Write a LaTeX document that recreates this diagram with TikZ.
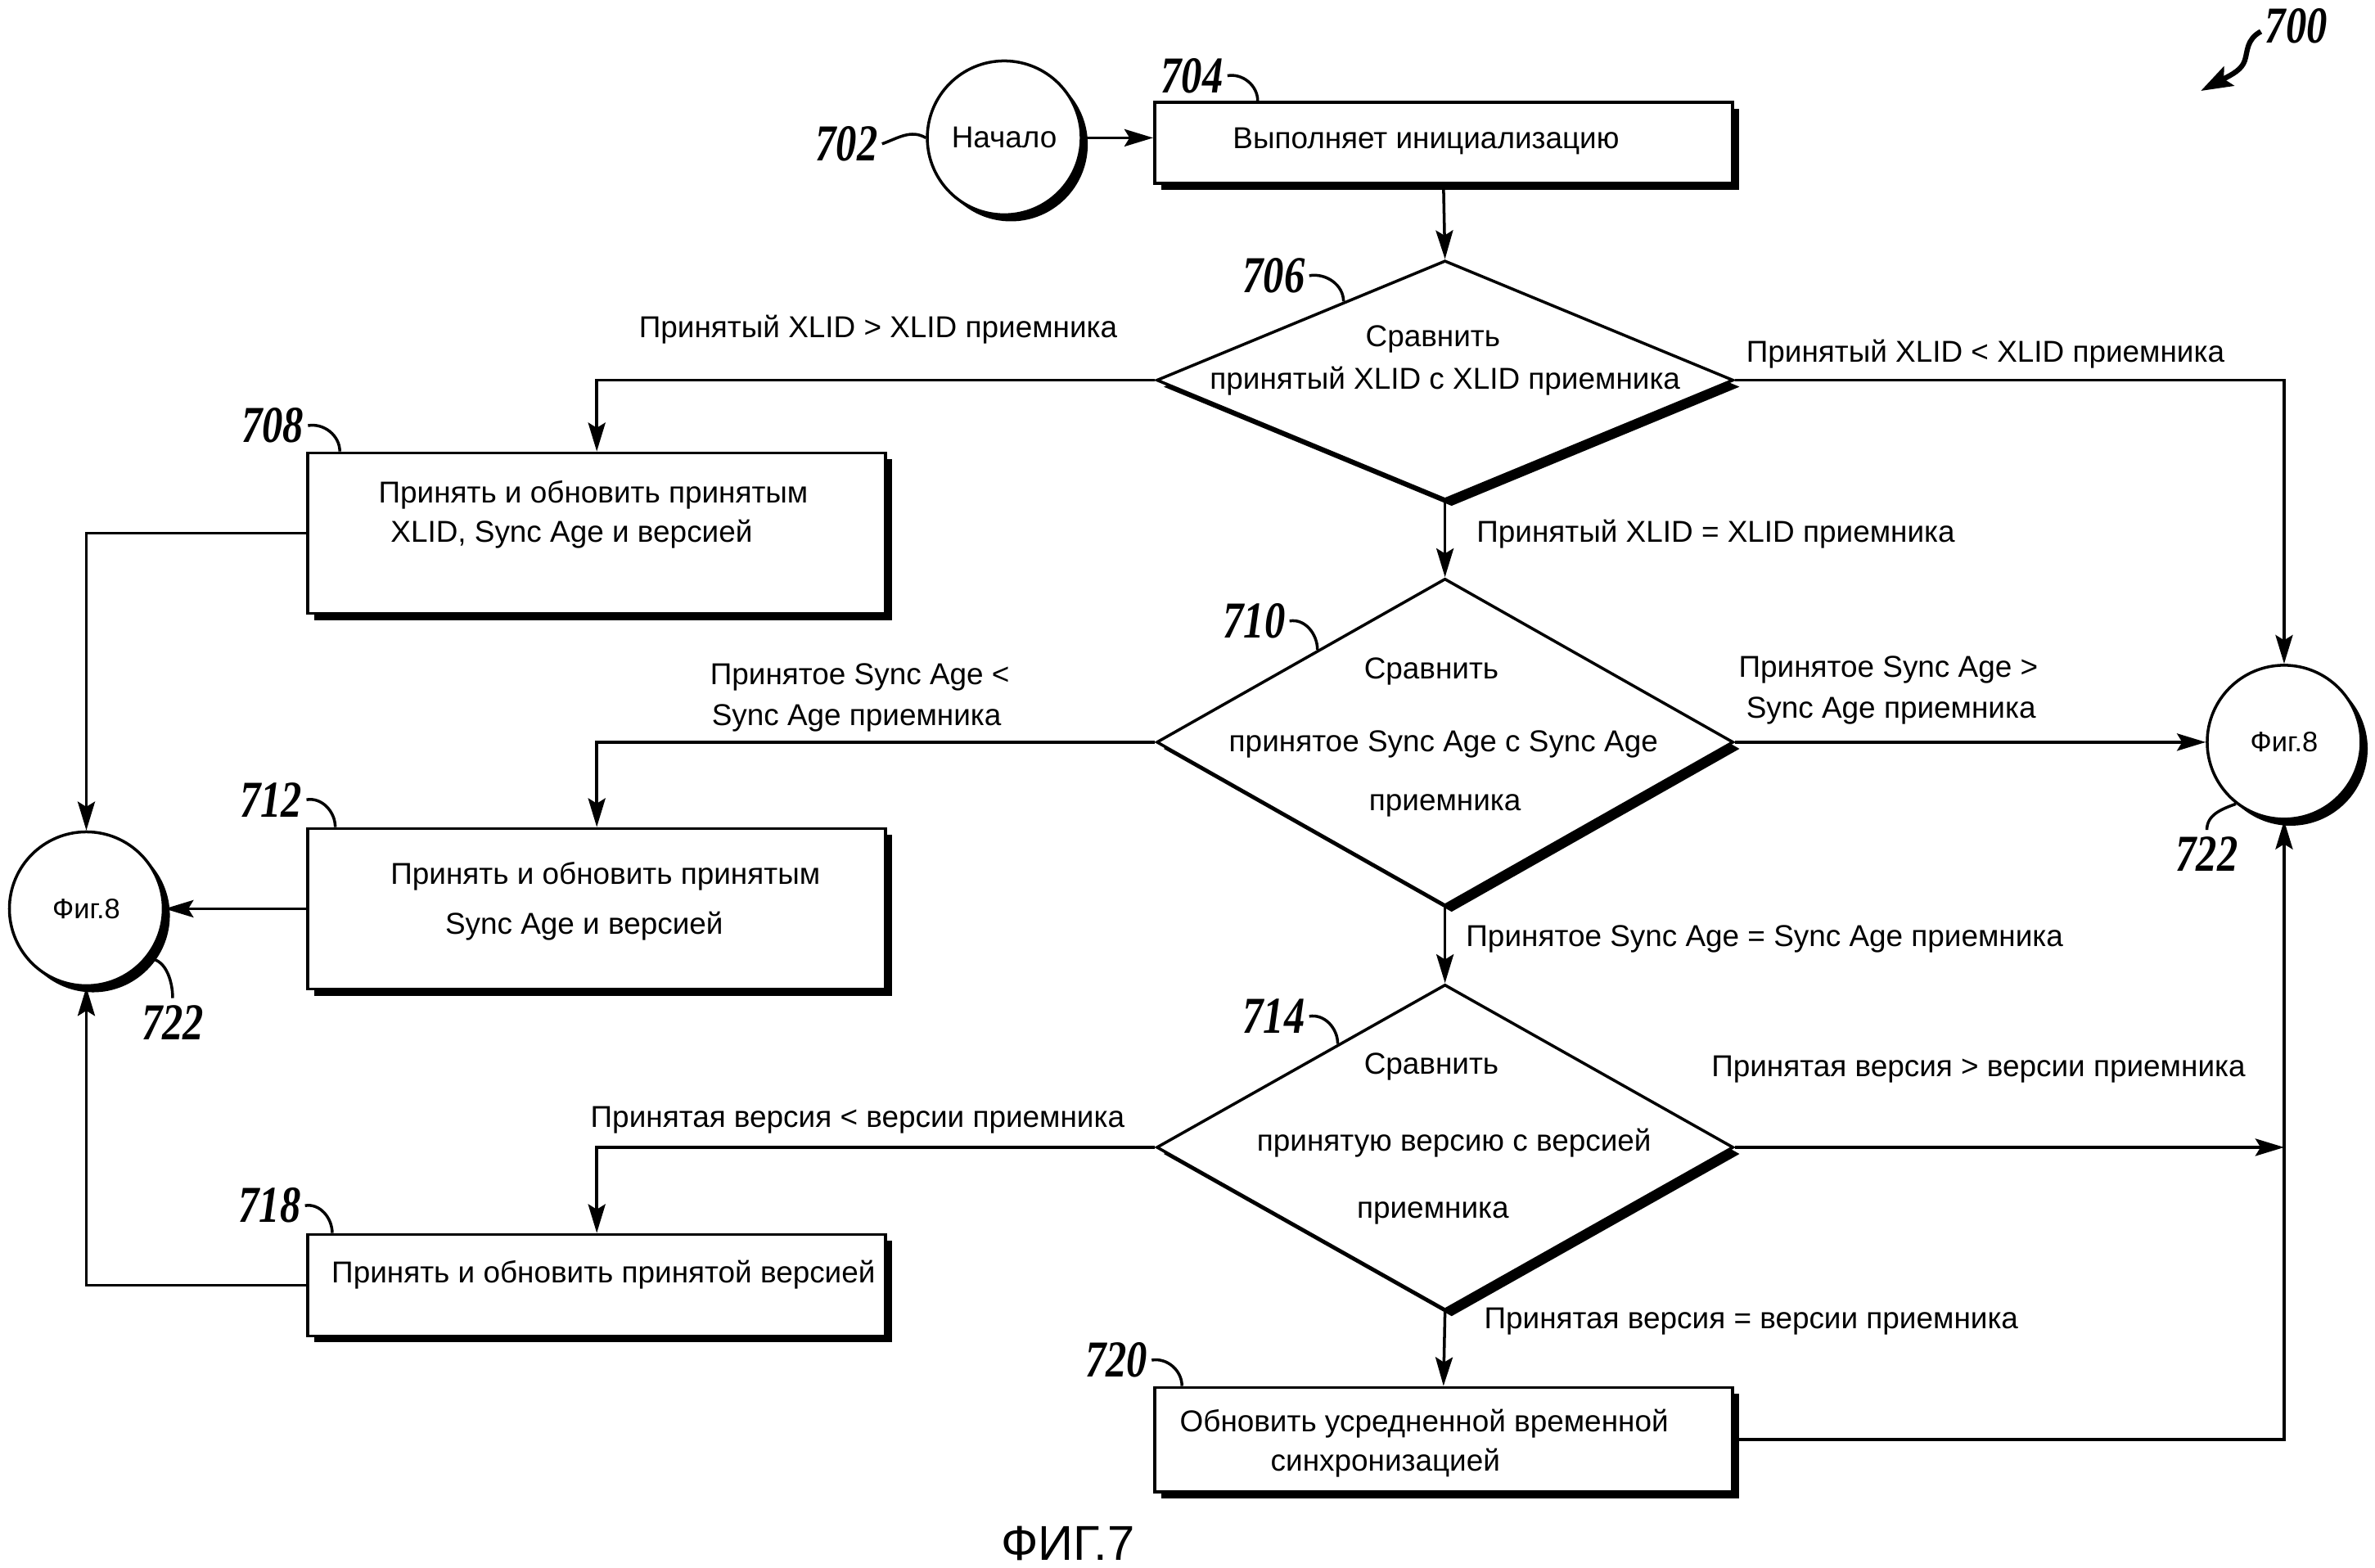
\documentclass[tikz,border=0pt]{standalone}
\usepackage{fontspec}
\setmainfont{Liberation Sans}
\newfontfamily\numfont{Liberation Serif}[FakeStretch=0.8]
\usetikzlibrary{shapes.geometric,shadows,arrows.meta,calc}
\begin{document}
\begin{tikzpicture}[x=0.018508cm,y=-0.018508cm,line width=1pt,
  shad/.style={drop shadow={shadow xshift=2.3pt,shadow yshift=-2.3pt,fill=black,opacity=1}},
  box/.style={draw,fill=white,shad,rectangle,inner sep=0pt,minimum width=7.06cm},
  dia/.style={draw,fill=white,shad,diamond,inner sep=0pt,minimum width=7.05cm},
  circ/.style={draw,fill=white,shad,circle,inner sep=0pt,minimum size=1.88cm,font=\fontsize{9.8}{11}\selectfont},
  txt/.style={font=\fontsize{10.5}{13}\selectfont,inner sep=0pt,text height=7.6pt,text depth=0.2pt},
  num/.style={font=\numfont\bfseries\itshape\fontsize{18}{18}\selectfont,inner sep=0pt},
  arr/.style={-{Stealth[length=10pt,width=6pt,inset=1.8pt]}},
  lead/.style={line width=1pt}]
\fill[white] (0,0) rectangle (1568,1035);
\useasboundingbox (0,0) rectangle (1568,1035);

% shapes
\node[circ,font=\fontsize{10.5}{13}\selectfont] (start) at (663,91) {Начало};
\node[box,minimum height=0.99cm] (b704) at (953,94.3) {};
\node[dia,minimum height=2.924cm] (d706) at (954,251) {};
\node[box,minimum height=1.962cm] (b708) at (394,352) {};
\node[dia,minimum height=3.998cm] (d710) at (954,490) {};
\node[box,minimum height=1.962cm] (b712) at (394,600) {};
\node[dia,minimum height=3.979cm] (d714) at (954,757.5) {};
\node[box,minimum height=1.24cm] (b718) at (394,848.5) {};
\node[box,minimum height=1.277cm] (b720) at (953,950.5) {};
\node[circ] (fr) at (1508,490) {Фиг.8};
\node[circ] (fl) at (57,600) {Фиг.8};

% texts inside shapes
\node[txt,anchor=west] at (813,91) {Выполняет инициализацию};
\node[txt] at (946,222) {Сравнить};
\node[txt] at (954,250) {принятый XLID с XLID приемника};
\node[txt,anchor=west] at (249,325) {Принять и обновить принятым};
\node[txt,anchor=west] at (257,351) {XLID, Sync Age и версией};
\node[txt] at (945,441) {Сравнить};
\node[txt] at (953,489) {принятое Sync Age с Sync Age};
\node[txt] at (954,528) {приемника};
\node[txt,anchor=west] at (257,577) {Принять и обновить принятым};
\node[txt,anchor=west] at (293,610) {Sync Age и версией};
\node[txt] at (945,702) {Сравнить};
\node[txt] at (960,753) {принятую версию с версией};
\node[txt] at (946,797) {приемника};
\node[txt,anchor=west] at (218,840) {Принять и обновить принятой версией};
\node[txt,anchor=west] at (778,938) {Обновить усредненной временной};
\node[txt,anchor=west] at (838,964) {синхронизацией};

% edge labels
\node[txt,anchor=west] at (421,216) {Принятый XLID > XLID приемника};
\node[txt,anchor=west] at (1152,232) {Принятый XLID < XLID приемника};
\node[txt,anchor=west] at (974,351) {Принятый XLID = XLID приемника};
\node[txt,anchor=west] at (468,445) {Принятое Sync Age <};
\node[txt,anchor=west] at (469,472) {Sync Age приемника};
\node[txt,anchor=west] at (1147,440) {Принятое Sync Age >};
\node[txt,anchor=west] at (1152,467) {Sync Age приемника};
\node[txt,anchor=west] at (967,618) {Принятое Sync Age = Sync Age приемника};
\node[txt,anchor=west] at (389,737) {Принятая версия < версии приемника};
\node[txt,anchor=west] at (1129,704) {Принятая версия > версии приемника};
\node[txt,anchor=west] at (979,870) {Принятая версия = версии приемника};

% figure title
\node[font=\fontsize{17}{20}\selectfont,inner sep=0pt] (title) at (705,1019) {ФИГ.7};

% connectors
\draw[arr] (start.east) -- (start.east -| b704.west);
\draw[arr] (b704.south) -- (d706.north);
\draw[arr] (d706.west) -| (b708.north);
\draw[arr] (d706.east) -| (fr.north);
\draw[arr] (d706.south) -- (d710.north);
\draw[arr] (d710.west) -| (b712.north);
\draw[arr] (d710.east) -- (fr.west);
\draw[arr] (d710.south) -- (d714.north);
\draw[arr] (d714.west) -| (b718.north);
\draw[arr] (d714.east) -- (d714.east -| fr.south);
\draw[arr] (d714.south) -- (b720.north);
\draw[arr] (b720.east) -| (fr.south);
\draw[arr] (b708.west) -| (fl.north);
\draw[arr] (b712.west) -- (fl.east);
\draw[arr] (b718.west) -| (fl.south);

% reference numerals
\node[num] (n700) at (1516,17) {700};
\node[num] (n702) at (559,95) {702};
\node[num] (n704) at (787,50) {704};
\node[num] (n706) at (841,182) {706};
\node[num] (n708) at (180,281) {708};
\node[num] (n710) at (828,410) {710};
\node[num] (n712) at (179,528) {712};
\node[num] (n714) at (841,671) {714};
\node[num] (n718) at (178,796) {718};
\node[num] (n720) at (737,898) {720};
\node[num] (n722l) at (114,675) {722};
\node[num] (n722r) at (1457,564) {722};

% leaders
\draw[lead] ([xshift=1pt]n702.east) to[out=20,in=150] (start.west);
\draw[lead] ([xshift=1pt]n704.east) to[out=10,in=90] ($(b704.north west)+(69,0)$);
\draw[lead] ([xshift=1pt]n706.east) to[out=10,in=90] ($(d706.north)!0.35!(d706.west)$);
\draw[lead] ([xshift=1pt]n708.east) to[out=10,in=90] ($(b708.north west)+(22,0)$);
\draw[lead] ([xshift=1pt]n710.east) to[out=10,in=90] ($(d710.north)!0.44!(d710.west)$);
\draw[lead] ([xshift=1pt]n712.east) to[out=10,in=90] ($(b712.north west)+(19,0)$);
\draw[lead] ([xshift=1pt]n714.east) to[out=10,in=90] ($(d714.north)!0.37!(d714.west)$);
\draw[lead] ([xshift=1pt]n718.east) to[out=10,in=90] ($(b718.north west)+(17,0)$);
\draw[lead] ([xshift=1pt]n720.east) to[out=10,in=90] ($(b720.north west)+(19,0)$);
\draw[lead] (fl.-40) to[out=10,in=90] ([yshift=2pt]n722l.north);
\draw[lead] (fr.-128) to[out=200,in=90] ([yshift=2pt]n722r.north);
\draw[line width=1.8pt,-{Stealth[length=11pt,width=7.5pt,inset=2pt]}]
  ([xshift=-1pt,yshift=-2pt]n700.west) .. controls (1483,26) and (1484,34) .. (1482,40)
  .. controls (1480,46) and (1474,49) .. (1453,60);
\end{tikzpicture}
\end{document}
